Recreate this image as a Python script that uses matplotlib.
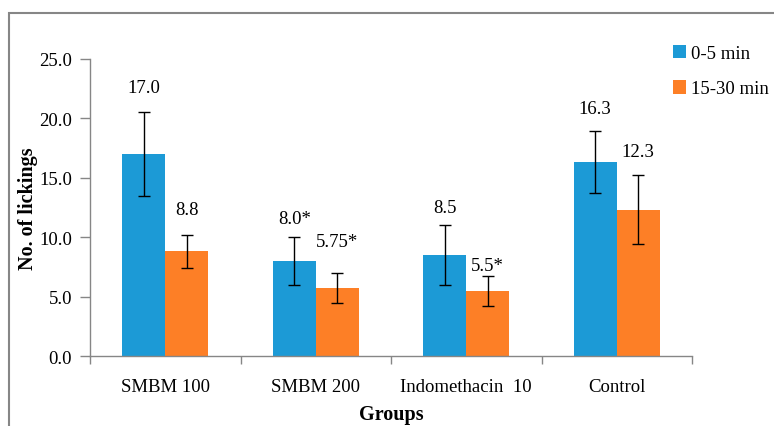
import numpy as np
import matplotlib.pyplot as plt
from matplotlib.patches import Rectangle

plt.rcParams['font.family'] = ['Liberation Serif', 'DejaVu Serif']

# data
groups = ['SMBM 100', 'SMBM 200', 'Indomethacin  10', 'Control']
early = [17.0, 8.0, 8.5, 16.3]        # 0-5 min
late = [8.8, 5.75, 5.5, 12.3]         # 15-30 min
early_err = [3.5, 2.0, 2.5, 2.6]
late_err = [1.4, 1.25, 1.25, 2.9]
early_lbl = ['17.0', '8.0*', '8.5', '16.3']
late_lbl = ['8.8', '5.75*', '5.5*', '12.3']
series = ['0-5 min', '15-30 min']

# extra gap between error bar top and label (data units)
early_pad = [2.1, 1.6, 1.5, 1.9]
late_pad = [2.1, 2.6, 0.9, 2.05]

blue = '#1c9ad6'
orange = '#fd7f26'
gray = '#868686'
fs = 13.5

fig = plt.figure(figsize=(7.74, 4.27), dpi=100)
ax = fig.add_axes([90/774, 1-357/427, 602/774, 297/427])

x = np.arange(len(groups))
w = 0.2857
ax.bar(x - w/2, early, w, color=blue, label=series[0], zorder=2)
ax.bar(x + w/2, late, w, color=orange, label=series[1], zorder=2)
ekw = dict(fmt='none', ecolor='black', elinewidth=1, capsize=4, capthick=1, zorder=3)
ax.errorbar(x - w/2, early, yerr=early_err, **ekw)
ax.errorbar(x + w/2, late, yerr=late_err, **ekw)

for i in range(len(groups)):
    ax.text(x[i] - w/2, early[i] + early_err[i] + early_pad[i], early_lbl[i],
            ha='center', va='center', fontsize=fs)
    ax.text(x[i] + w/2, late[i] + late_err[i] + late_pad[i], late_lbl[i],
            ha='center', va='center', fontsize=fs)

ax.set_xlim(-0.5, len(groups) - 0.5)
ax.set_ylim(0, 25)
ax.set_yticks(np.arange(0, 25.1, 5))
ax.set_yticklabels(['%.1f' % v for v in np.arange(0, 25.1, 5)], fontsize=fs)
ax.set_xticks(x)
ax.set_xticklabels(groups, fontsize=fs)
ax.set_xticks(np.arange(-0.5, len(groups)), minor=True)
ax.tick_params(axis='x', which='major', length=0, pad=16)
ax.tick_params(axis='x', which='minor', length=6, color=gray, width=1)
ax.tick_params(axis='y', length=7, color=gray, width=1, pad=6)

for s in ['top', 'right']:
    ax.spines[s].set_visible(False)
for s in ['left', 'bottom']:
    ax.spines[s].set_color(gray)
    ax.spines[s].set_linewidth(1)

ax.set_ylabel('No. of lickings', fontsize=14.5, fontweight='bold', labelpad=1)
ax.set_xlabel('Groups', fontsize=14.5, fontweight='bold', labelpad=6)

ax.legend(loc='upper left', bbox_to_anchor=(665/774, 1-38/427), bbox_transform=fig.transFigure,
          frameon=False, fontsize=fs, handlelength=0.7, handleheight=0.7,
          handletextpad=0.3, labelspacing=1.0, borderaxespad=0)

# outer frame
fig.patches.append(Rectangle((9/774, -0.05), 1.0, 1.05 - 14/427, transform=fig.transFigure,
                             fill=False, edgecolor=gray, linewidth=1.5))

fig.savefig('out.png', dpi=100)
